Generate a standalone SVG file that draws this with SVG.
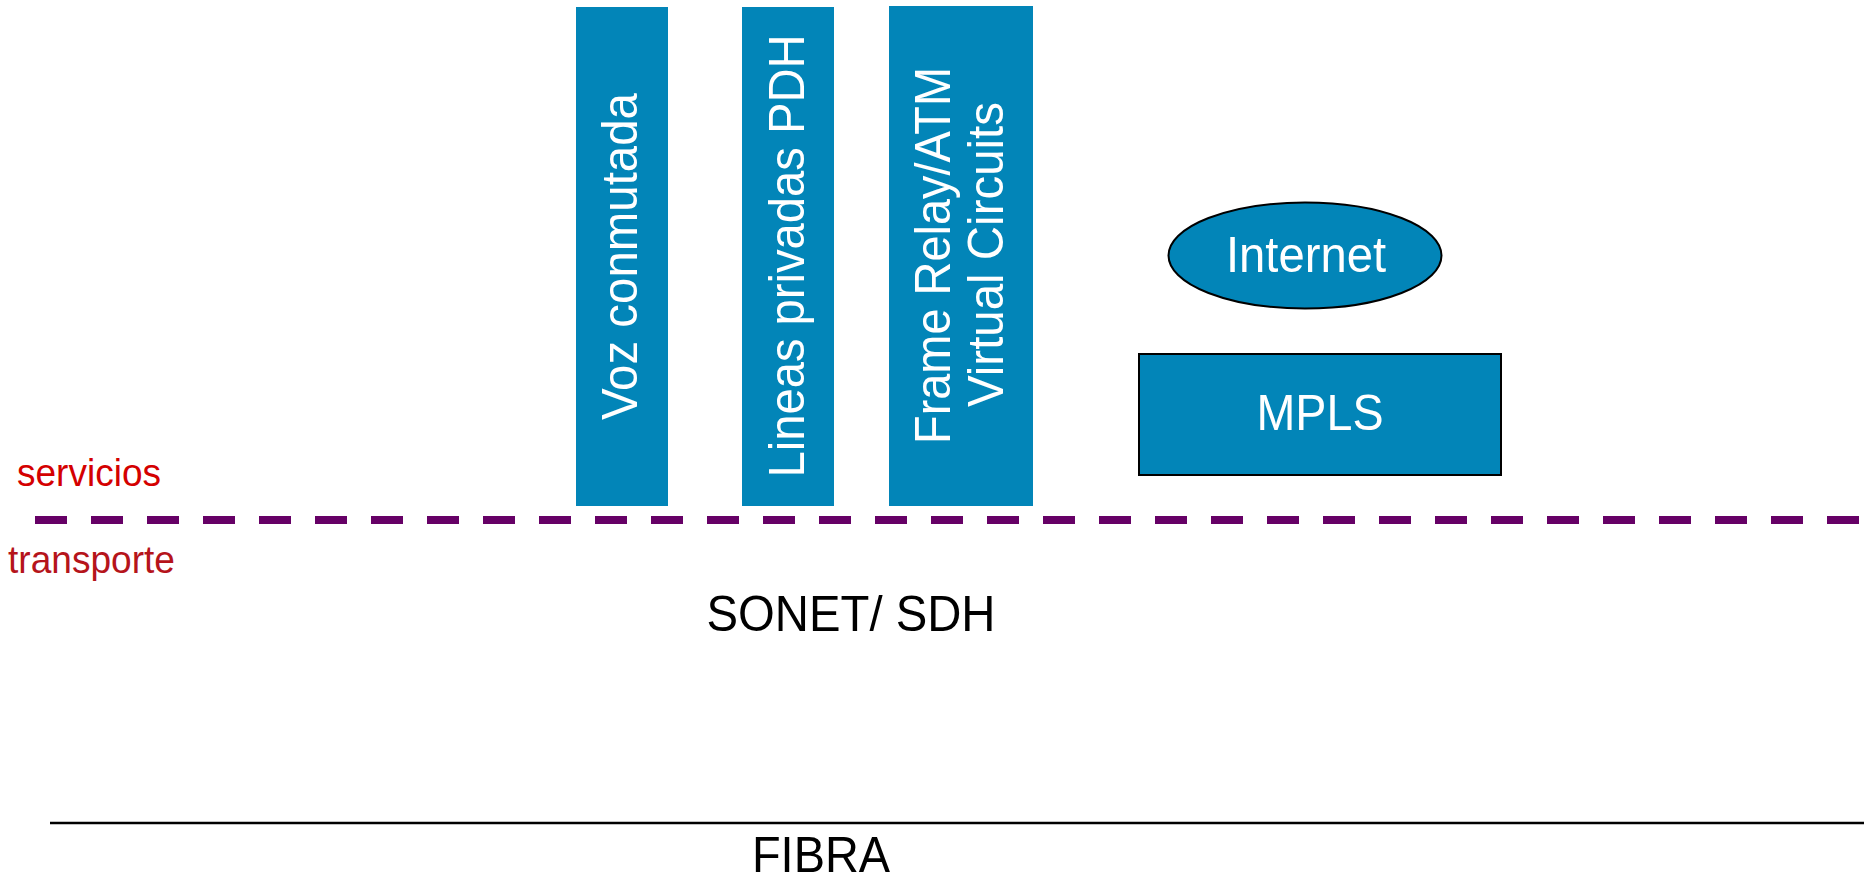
<svg xmlns="http://www.w3.org/2000/svg" width="1864" height="879" viewBox="0 0 1864 879">
  <style>
    .box { fill: #0285b8; }
    .outlined { fill: #0285b8; stroke: #000000; stroke-width: 2; }
    .label { font-family: "Liberation Sans", Arial, sans-serif; font-size: 50px; }
    .white { fill: #ffffff; }
    .black { fill: #000000; }
    .layer { font-family: "Liberation Sans", Arial, sans-serif; font-size: 39px; }
  </style>
  <rect width="1864" height="879" fill="#ffffff"/>

  <!-- vertical service columns -->
  <g id="voz-conmutada">
    <rect class="box" x="576" y="7" width="92" height="499"/>
    <text class="label white" text-anchor="middle" textLength="327" lengthAdjust="spacingAndGlyphs" transform="translate(637,256.5) rotate(-90)">Voz conmutada</text>
  </g>
  <g id="lineas-privadas">
    <rect class="box" x="742" y="7" width="92" height="499"/>
    <text class="label white" text-anchor="middle" textLength="443" lengthAdjust="spacingAndGlyphs" transform="translate(804,256) rotate(-90)">Lineas privadas PDH</text>
  </g>
  <g id="frame-relay">
    <rect class="box" x="889" y="6" width="144" height="500"/>
    <text class="label white" text-anchor="middle" textLength="377" lengthAdjust="spacingAndGlyphs" transform="translate(950,255.5) rotate(-90)">Frame Relay/ATM</text>
    <text class="label white" text-anchor="middle" textLength="305" lengthAdjust="spacingAndGlyphs" transform="translate(1003,254.5) rotate(-90)">Virtual Circuits</text>
  </g>

  <!-- IP-based services -->
  <g id="internet">
    <ellipse class="outlined" cx="1305" cy="255.5" rx="136.5" ry="53"/>
    <text class="label white" x="1306" y="271.5" text-anchor="middle" textLength="160" lengthAdjust="spacingAndGlyphs">Internet</text>
  </g>
  <g id="mpls">
    <rect class="outlined" x="1139" y="354" width="362" height="121"/>
    <text class="label white" x="1320" y="430" text-anchor="middle" textLength="127" lengthAdjust="spacingAndGlyphs">MPLS</text>
  </g>

  <!-- layer boundaries -->
  <g id="connectors">
    <line x1="35" y1="520" x2="1864" y2="520" stroke="#660066" stroke-width="8" stroke-dasharray="32 24"/>
    <line x1="50" y1="823" x2="1864" y2="823" stroke="#000000" stroke-width="2.5"/>
  </g>

  <!-- layer labels -->
  <g id="servicios">
    <text class="layer" x="17" y="486" fill="#d40000" textLength="144" lengthAdjust="spacingAndGlyphs">servicios</text>
  </g>
  <g id="transporte">
    <text class="layer" x="8" y="573" fill="#b5141b" textLength="167" lengthAdjust="spacingAndGlyphs">transporte</text>
  </g>
  <g id="sonet-sdh">
    <text class="label black" x="851" y="631" text-anchor="middle" textLength="289" lengthAdjust="spacingAndGlyphs">SONET/ SDH</text>
  </g>
  <g id="fibra">
    <text class="label black" x="821" y="872" text-anchor="middle" textLength="138" lengthAdjust="spacingAndGlyphs">FIBRA</text>
  </g>
</svg>
